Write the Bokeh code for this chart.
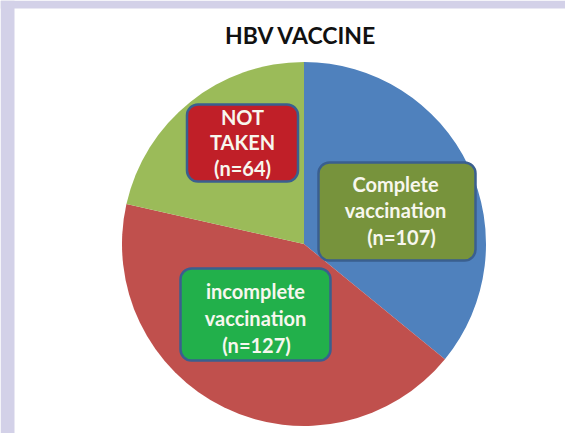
import numpy as np
from bokeh.plotting import figure
from bokeh.models import Range1d
from bokeh.core.properties import value
from bokeh.embed import file_html
from bokeh.resources import INLINE

# ---- data ----
categories = ["Complete vaccination", "incomplete vaccination", "NOT TAKEN"]
counts = [107, 127, 64]
slice_colors = ["#4F81BD", "#C0504D", "#9BBB59"]
label_lines = [["Complete", "vaccination"], ["incomplete", "vaccination"], ["NOT", "TAKEN"]]
box_colors = ["#77933C", "#22B04B", "#C01F28"]
title_text = "HBV VACCINE"

# ---- layout (page pixel coordinates) ----
FW, FH = 565, 433


def Y(py):
    return FH - py


p = figure(width=FW, height=FH, x_range=Range1d(0, FW), y_range=Range1d(0, FH),
           output_backend="svg", toolbar_location=None,
           x_axis_location=None, y_axis_location=None, min_border=0)
p.grid.visible = False
p.outline_line_color = None
p.background_fill_color = "white"
p.border_fill_color = "white"

# lavender frame strips (left and top)
p.quad(left=0, right=14, bottom=0, top=FH, fill_color="#D3D1E8", line_color=None)
p.quad(left=0, right=FW, bottom=Y(8), top=FH, fill_color="#D3D1E8", line_color=None)

# ---- pie ----
cx, cy, r = 303.5, Y(243.5), 182
total = float(sum(counts))
cum = np.concatenate([[0], np.cumsum(counts)]) / total
starts = np.pi / 2 - 2 * np.pi * cum[:-1]
ends = np.pi / 2 - 2 * np.pi * cum[1:]
p.wedge(x=cx, y=cy, radius=r, start_angle=list(starts), end_angle=list(ends),
        direction="clock", fill_color=slice_colors, line_color=None)

# ---- label boxes ----
box_geom = [  # (cx, cy, w, h) page pixels
    (396.5, 211, 157, 98),
    (255, 314, 150, 92),
    (242, 142.5, 111, 77),
]
p.rect(x=[b[0] for b in box_geom], y=[Y(b[1]) for b in box_geom],
       width=[b[2] for b in box_geom], height=[b[3] for b in box_geom],
       fill_color=box_colors, line_color="#3A5F8F", line_width=2.5,
       border_radius=11)

line_pos = [  # centers of each text line (page pixels)
    [(395, 183.5), (395, 209.5), (401, 236)],
    [(255, 290.5), (255, 317), (256, 344)],
    [(242, 116), (242, 141), (242, 167)],
]
tx, ty, tt = [], [], []
for lines, n, pos in zip(label_lines, counts, line_pos):
    texts = lines + [f"(n={n})"]
    for t, (px, py) in zip(texts, pos):
        tx.append(px)
        ty.append(Y(py))
        tt.append(t)
p.text(x=tx, y=ty, text=tt, text_font=value("Lato"), text_font_style="bold",
       text_font_size="20px", text_color="#F7F7EE", text_align="center",
       text_baseline="middle")

# ---- title ----
p.text(x=[300.5], y=[Y(34)], text=[title_text], text_font=value("Lato"),
       text_font_style="bold", text_font_size="23px", text_color="#111111",
       text_align="center", text_baseline="middle")

open("out.html", "w").write(file_html(p, INLINE))
